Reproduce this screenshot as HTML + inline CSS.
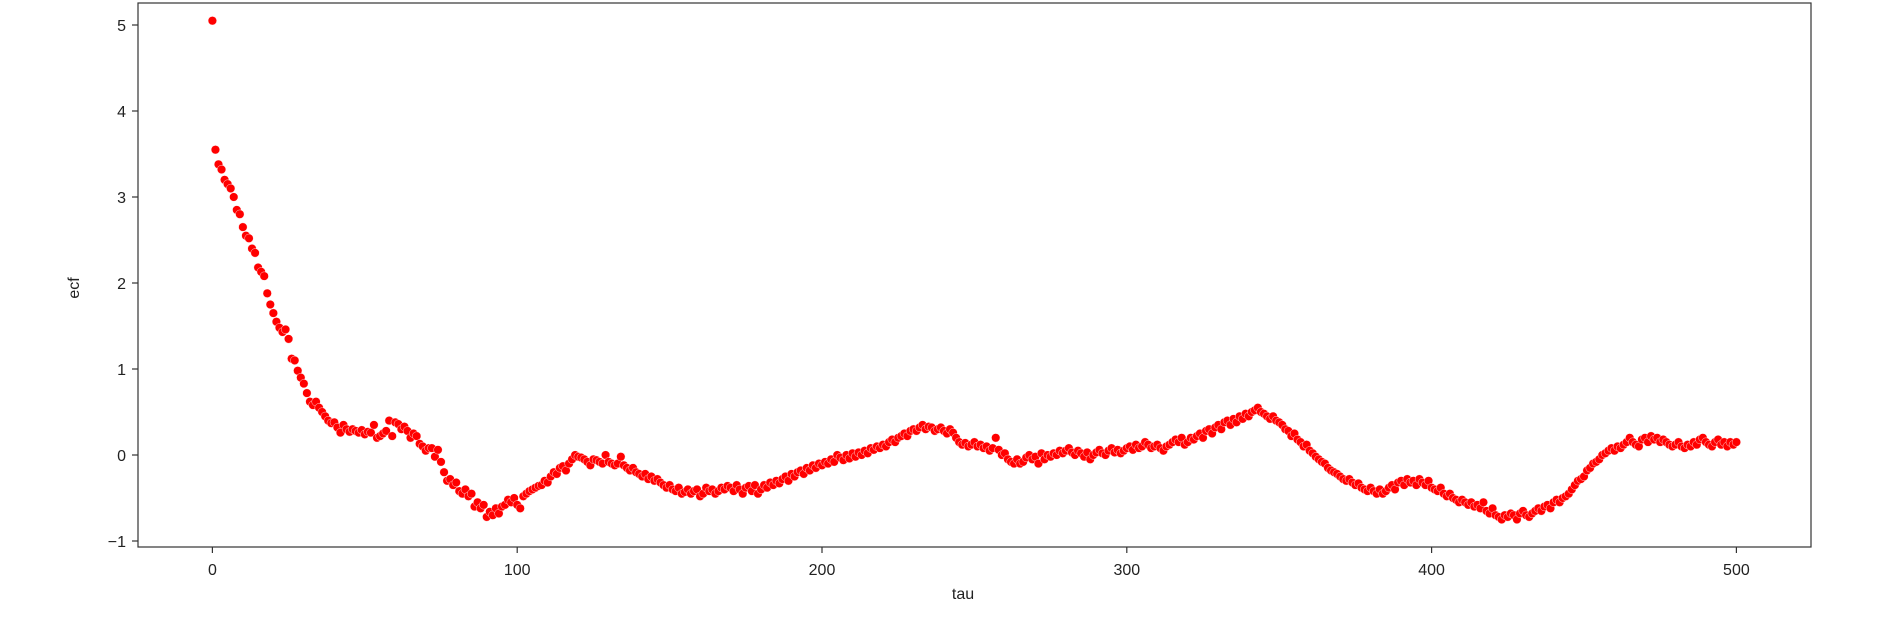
<!DOCTYPE html>
<html><head><meta charset="utf-8"><style>
html,body{margin:0;padding:0;background:#fff;}
svg{display:block;font-family:"Liberation Sans","DejaVu Sans",sans-serif;}
</style></head><body>
<svg id="chart" width="1882" height="618" viewBox="0 0 1882 618" xmlns="http://www.w3.org/2000/svg">
<rect x="0" y="0" width="1882" height="618" fill="#fff"/>
<g id="marks"></g>
<rect x="138" y="3" width="1673" height="544" fill="none" stroke="#333" stroke-width="1.2"/>
<g id="xticks"></g>
<g id="yticks"></g>
<text x="963" y="599" font-size="16" text-anchor="middle" fill="#222">tau</text>
<text x="0" y="0" font-size="16" text-anchor="middle" fill="#222" transform="translate(79,288) rotate(-90)">ecf</text>
</svg>
<script>
const xTicks = [0, 100, 200, 300, 400, 500];
const yTicks = [-1, 0, 1, 2, 3, 4, 5];
const yTickLabels = ["\u22121", "0", "1", "2", "3", "4", "5"];
const ecfValues = [
5.05,3.55,3.38,3.32,3.20,3.15,3.10,3.00,2.85,2.80,
2.65,2.55,2.52,2.40,2.35,2.18,2.13,2.08,1.88,1.75,
1.65,1.55,1.48,1.43,1.46,1.35,1.12,1.10,0.98,0.90,
0.83,0.72,0.62,0.58,0.62,0.55,0.50,0.45,0.40,0.37,
0.38,0.32,0.26,0.35,0.30,0.27,0.30,0.28,0.26,0.29,
0.24,0.27,0.26,0.35,0.20,0.22,0.25,0.28,0.40,0.22,
0.38,0.36,0.30,0.33,0.28,0.20,0.25,0.22,0.13,0.10,
0.05,0.08,0.08,-0.02,0.06,-0.08,-0.20,-0.30,-0.28,-0.35,
-0.32,-0.42,-0.45,-0.40,-0.48,-0.45,-0.60,-0.55,-0.62,-0.58,
-0.72,-0.66,-0.70,-0.62,-0.68,-0.60,-0.58,-0.52,-0.55,-0.50,
-0.58,-0.62,-0.48,-0.45,-0.42,-0.40,-0.38,-0.36,-0.35,-0.30,
-0.32,-0.25,-0.20,-0.22,-0.15,-0.13,-0.18,-0.10,-0.05,0.00,
-0.02,-0.03,-0.05,-0.08,-0.12,-0.05,-0.06,-0.08,-0.10,0.00,
-0.08,-0.10,-0.12,-0.10,-0.02,-0.12,-0.15,-0.18,-0.15,-0.20,
-0.22,-0.25,-0.22,-0.28,-0.25,-0.30,-0.28,-0.32,-0.35,-0.38,
-0.35,-0.40,-0.42,-0.38,-0.45,-0.43,-0.40,-0.45,-0.42,-0.40,
-0.48,-0.45,-0.38,-0.42,-0.40,-0.45,-0.42,-0.38,-0.40,-0.36,
-0.38,-0.42,-0.35,-0.40,-0.45,-0.38,-0.36,-0.42,-0.35,-0.45,
-0.40,-0.35,-0.38,-0.32,-0.35,-0.30,-0.33,-0.28,-0.25,-0.30,
-0.22,-0.25,-0.20,-0.18,-0.22,-0.15,-0.18,-0.12,-0.15,-0.10,
-0.12,-0.08,-0.10,-0.05,-0.08,0.00,-0.03,-0.06,0.00,-0.04,
0.02,-0.02,0.03,0.00,0.05,0.02,0.08,0.06,0.10,0.08,
0.12,0.10,0.15,0.18,0.15,0.20,0.22,0.25,0.22,0.28,
0.30,0.28,0.32,0.35,0.30,0.33,0.32,0.28,0.30,0.32,
0.28,0.25,0.30,0.26,0.20,0.15,0.12,0.14,0.10,0.12,
0.15,0.10,0.12,0.08,0.10,0.05,0.08,0.20,0.06,0.00,
0.02,-0.05,-0.08,-0.10,-0.05,-0.10,-0.08,-0.03,0.00,-0.05,
-0.02,-0.10,0.02,-0.05,0.00,-0.02,0.02,0.00,0.05,0.02,
0.05,0.08,0.03,0.00,0.05,0.02,-0.02,0.03,-0.05,0.00,
0.03,0.06,0.02,0.00,0.05,0.08,0.03,0.06,0.02,0.05,
0.08,0.10,0.06,0.12,0.08,0.10,0.15,0.12,0.08,0.10,
0.12,0.08,0.05,0.10,0.12,0.15,0.18,0.15,0.20,0.12,
0.15,0.20,0.18,0.22,0.25,0.20,0.28,0.30,0.25,0.32,
0.35,0.30,0.38,0.40,0.35,0.42,0.38,0.45,0.42,0.48,
0.45,0.50,0.52,0.55,0.50,0.48,0.45,0.42,0.45,0.40,
0.38,0.35,0.30,0.28,0.22,0.25,0.18,0.15,0.10,0.12,
0.05,0.02,-0.02,-0.05,-0.08,-0.10,-0.15,-0.18,-0.20,-0.22,
-0.25,-0.28,-0.30,-0.28,-0.32,-0.35,-0.33,-0.38,-0.40,-0.42,
-0.38,-0.42,-0.45,-0.40,-0.45,-0.42,-0.38,-0.35,-0.40,-0.32,
-0.30,-0.35,-0.28,-0.32,-0.30,-0.35,-0.28,-0.32,-0.35,-0.30,
-0.38,-0.40,-0.42,-0.38,-0.45,-0.48,-0.45,-0.50,-0.52,-0.55,
-0.52,-0.55,-0.58,-0.55,-0.60,-0.58,-0.62,-0.55,-0.65,-0.68,
-0.62,-0.70,-0.72,-0.75,-0.70,-0.72,-0.68,-0.70,-0.75,-0.68,
-0.65,-0.70,-0.72,-0.68,-0.65,-0.62,-0.65,-0.60,-0.58,-0.62,
-0.55,-0.52,-0.55,-0.50,-0.48,-0.45,-0.40,-0.35,-0.30,-0.28,
-0.25,-0.18,-0.15,-0.10,-0.08,-0.05,0.00,0.02,0.05,0.08,
0.05,0.10,0.08,0.12,0.15,0.20,0.15,0.12,0.10,0.18,
0.20,0.15,0.22,0.18,0.20,0.15,0.18,0.15,0.12,0.10,
0.12,0.15,0.10,0.08,0.12,0.10,0.15,0.12,0.18,0.20,
0.15,0.12,0.10,0.15,0.18,0.12,0.15,0.10,0.15,0.12,
0.15
];

const NS = "http://www.w3.org/2000/svg";
function xScale(t){ return 212.4 + (t / 500) * (1736.4 - 212.4); }
function yScale(v){ return 455 - v * 86; }

const marks = document.getElementById('marks');
ecfValues.forEach(function(v, i){
  const c = document.createElementNS(NS, 'circle');
  c.setAttribute('cx', xScale(i).toFixed(2));
  c.setAttribute('cy', yScale(v).toFixed(2));
  c.setAttribute('r', '4.3');
  c.setAttribute('fill', '#ff0000');
  c.setAttribute('stroke', '#ffffff');
  c.setAttribute('stroke-width', '0.4');
  
  
  marks.appendChild(c);
});

const xg = document.getElementById('xticks');
xTicks.forEach(function(t){
  const x = xScale(t);
  const l = document.createElementNS(NS, 'line');
  l.setAttribute('x1', x); l.setAttribute('x2', x);
  l.setAttribute('y1', 547); l.setAttribute('y2', 553);
  l.setAttribute('stroke', '#333'); l.setAttribute('stroke-width', '1.2');
  
  
  xg.appendChild(l);
  const tx = document.createElementNS(NS, 'text');
  tx.setAttribute('x', x); tx.setAttribute('y', 575);
  tx.setAttribute('font-size', '16'); tx.setAttribute('text-anchor', 'middle');
  tx.setAttribute('fill', '#222');
  
  
  tx.textContent = String(t);
  xg.appendChild(tx);
});

const yg = document.getElementById('yticks');
yTicks.forEach(function(v, i){
  const y = yScale(v);
  const l = document.createElementNS(NS, 'line');
  l.setAttribute('x1', 132); l.setAttribute('x2', 138);
  l.setAttribute('y1', y); l.setAttribute('y2', y);
  l.setAttribute('stroke', '#333'); l.setAttribute('stroke-width', '1.2');
  
  
  yg.appendChild(l);
  const tx = document.createElementNS(NS, 'text');
  tx.setAttribute('x', 126); tx.setAttribute('y', y + 6);
  tx.setAttribute('font-size', '16'); tx.setAttribute('text-anchor', 'end');
  tx.setAttribute('fill', '#222');
  
  
  tx.textContent = yTickLabels[i];
  yg.appendChild(tx);
});
</script>
</body></html>
